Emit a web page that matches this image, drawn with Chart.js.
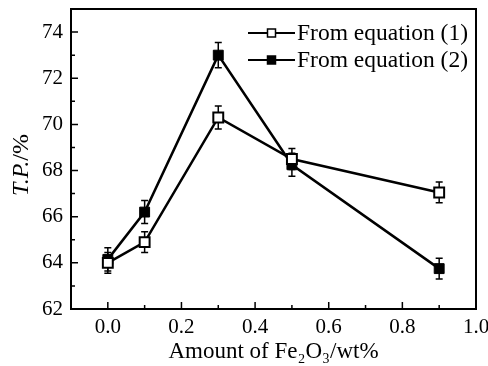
<!DOCTYPE html>
<html>
<head>
<meta charset="utf-8">
<script src="https://cdn.jsdelivr.net/npm/chart.js@4/dist/chart.umd.min.js"></script>
<style>
html,body{margin:0;padding:0;background:#fff;}
#wrap{width:488px;height:366px;position:relative;}
</style>
</head>
<body>
<div id="wrap"><canvas id="c" width="488" height="366"></canvas></div>
<script>
const xValues = [0.0, 0.1, 0.3, 0.5, 0.9];
const eq1 = [64.0, 64.9, 70.3, 68.5, 67.05];
const eq2 = [64.15, 66.2, 73.0, 68.25, 63.75];
const eq1Err = [0.45, 0.45, 0.5, 0.45, 0.45];
const eq2Err = [0.5, 0.5, 0.55, 0.5, 0.45];
const xTicks = [0.0, 0.2, 0.4, 0.6, 0.8, 1.0];
const xMinor = [0.1, 0.3, 0.5, 0.7, 0.9];
const yTicks = [62, 64, 66, 68, 70, 72, 74];
const yMinor = [63, 65, 67, 69, 71, 73];
const seriesNames = ['From equation (1)', 'From equation (2)'];

const FONT = '"Liberation Serif", "Times New Roman", serif';

const frame = {
  id: 'frame',
  beforeDatasetsDraw(chart) {
    const ctx = chart.ctx, ys = chart.scales.y;
    ctx.save();
    ctx.strokeStyle = '#000'; ctx.lineWidth = 1.5;
    chart.data.datasets.forEach((ds, di) => {
      const meta = chart.getDatasetMeta(di);
      meta.data.forEach((pt, i) => {
        const v = ds.data[i].y, e = ds.err[i];
        const yt = ys.getPixelForValue(v + e), yb = ys.getPixelForValue(v - e);
        ctx.beginPath();
        ctx.moveTo(pt.x, yt); ctx.lineTo(pt.x, yb);
        ctx.moveTo(pt.x - 3.5, yt); ctx.lineTo(pt.x + 3.5, yt);
        ctx.moveTo(pt.x - 3.5, yb); ctx.lineTo(pt.x + 3.5, yb);
        ctx.stroke();
      });
    });
    ctx.restore();
  },
  afterDraw(chart) {
    const ctx = chart.ctx, a = chart.chartArea, xs = chart.scales.x, ys = chart.scales.y;
    ctx.save();
    ctx.strokeStyle = '#000';
    ctx.lineWidth = 2;
    ctx.strokeRect(a.left, a.top, a.right - a.left, a.bottom - a.top);
    ctx.lineWidth = 1.5;
    ctx.beginPath();
    xTicks.forEach(v => { const x = xs.getPixelForValue(v); ctx.moveTo(x, a.bottom); ctx.lineTo(x, a.bottom - 7); });
    xMinor.forEach(v => { const x = xs.getPixelForValue(v); ctx.moveTo(x, a.bottom); ctx.lineTo(x, a.bottom - 4); });
    yTicks.forEach(v => { const y = ys.getPixelForValue(v); ctx.moveTo(a.left, y); ctx.lineTo(a.left + 7, y); });
    yMinor.forEach(v => { const y = ys.getPixelForValue(v); ctx.moveTo(a.left, y); ctx.lineTo(a.left + 4, y); });
    ctx.stroke();

    // legend
    const lx0 = 248, lx1 = 295, rows = [33, 60];
    chart.data.datasets.forEach((ds, di) => {
      const y = rows[di];
      ctx.lineWidth = 2;
      ctx.strokeStyle = '#000';
      ctx.beginPath(); ctx.moveTo(lx0, y); ctx.lineTo(lx1, y); ctx.stroke();
      const s = 8;
      const mx = (lx0 + lx1) / 2;
      ctx.fillStyle = ds.pointBackgroundColor;
      ctx.fillRect(mx - s/2, y - s/2, s, s);
      ctx.lineWidth = 1.5;
      ctx.strokeRect(mx - s/2, y - s/2, s, s);
      ctx.fillStyle = '#000';
      ctx.font = '23.5px ' + FONT;
      ctx.textBaseline = 'middle';
      ctx.textAlign = 'left';
      ctx.fillText(seriesNames[di], lx1 + 2, y + 1);
    });

    // y title: italic T.P. + normal /%
    ctx.save();
    ctx.translate(22, (a.top + a.bottom) / 2 + 6);
    ctx.rotate(-Math.PI / 2);
    ctx.fillStyle = '#000';
    ctx.textBaseline = 'middle';
    ctx.font = 'italic 24px ' + FONT;
    const p1 = 'T.P.', p2 = '/%';
    const w1 = ctx.measureText(p1).width;
    ctx.font = '24px ' + FONT;
    const w2 = ctx.measureText(p2).width;
    let sx = -(w1 + w2) / 2;
    ctx.font = 'italic 24px ' + FONT;
    ctx.textAlign = 'left';
    ctx.fillText(p1, sx, 0);
    ctx.font = '24px ' + FONT;
    ctx.fillText(p2, sx + w1, 0);
    ctx.restore();
    ctx.restore();
  }
};

new Chart(document.getElementById('c'), {
  type: 'line',
  data: {
    datasets: [
      {
        label: seriesNames[0],
        data: xValues.map((x, i) => ({x: x, y: eq1[i]})),
        err: eq1Err,
        borderColor: '#000', borderWidth: 2.5,
        pointStyle: 'rect', pointRadius: 7, pointBorderWidth: 2,
        pointBackgroundColor: '#fff', pointBorderColor: '#000',
        tension: 0, fill: false
      },
      {
        label: seriesNames[1],
        data: xValues.map((x, i) => ({x: x, y: eq2[i]})),
        err: eq2Err,
        borderColor: '#000', borderWidth: 2.5,
        pointStyle: 'rect', pointRadius: 7, pointBorderWidth: 1,
        pointBackgroundColor: '#000', pointBorderColor: '#000',
        tension: 0, fill: false
      }
    ]
  },
  options: {
    responsive: false,
    animation: false,
    events: [],
    layout: { padding: { top: 7, right: 12, left: 0, bottom: 0 } },
    plugins: { legend: { display: false }, tooltip: { enabled: false } },
    scales: {
      x: {
        type: 'linear', min: -0.1, max: 1.0,
        grid: { display: false, drawTicks: false },
        border: { display: false },
        afterBuildTicks: s => { s.ticks = xTicks.map(v => ({value: v})); },
        afterFit: s => { s.height = 57; s.paddingLeft = 0; s.paddingRight = 0; },
        ticks: { color: '#000', font: { family: FONT, size: 21 }, padding: 6, maxRotation: 0,
                 callback: v => Number(v).toFixed(1) },
        title: { display: true, text: 'Amount of Fe₂O₃/wt%', color: '#000',
                 font: { family: FONT, size: 23 }, padding: { top: 0, bottom: 0 } }
      },
      y: {
        min: 62, max: 75,
        grid: { display: false, drawTicks: false },
        border: { display: false },
        afterBuildTicks: s => { s.ticks = yTicks.map(v => ({value: v})); },
        afterFit: s => { s.width = 71; s.paddingTop = 0; s.paddingBottom = 0; },
        ticks: { color: '#000', font: { family: FONT, size: 21 }, padding: 8 }
      }
    }
  },
  plugins: [frame]
});
</script>
</body>
</html>
